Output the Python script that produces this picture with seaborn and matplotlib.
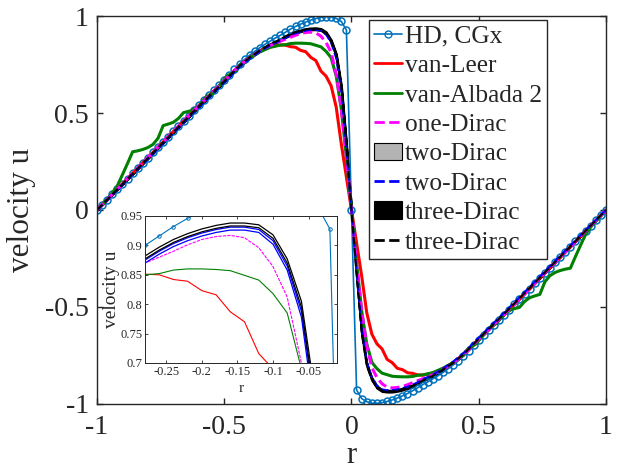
import numpy as np
import matplotlib
matplotlib.use("Agg")
import matplotlib.pyplot as plt
from matplotlib.lines import Line2D
from matplotlib.patches import Patch
import seaborn as sns

# ---------------- data ----------------
# HD, CGx reference solution on the 0.02 mesh
r_hd = np.linspace(-1, 1, 101)
hd_left = [0.000, 0.027, 0.054, 0.081, 0.108, 0.135, 0.162, 0.189, 0.216, 0.243,
           0.270, 0.297, 0.324, 0.351, 0.378, 0.405, 0.432, 0.459, 0.486, 0.513,
           0.540, 0.566, 0.592, 0.618, 0.644, 0.670, 0.698, 0.725, 0.752, 0.776,
           0.798, 0.818, 0.837, 0.854, 0.870, 0.886, 0.900, 0.916, 0.932, 0.946,
           0.958, 0.969, 0.979, 0.987, 0.993, 0.997, 0.996, 0.988, 0.972, 0.928,
           0.000]
hd_right = [-0.928, -0.972, -0.988, -0.996, -0.997, -0.993, -0.987, -0.979, -0.969, -0.958,
            -0.946, -0.932, -0.916, -0.900, -0.886, -0.870, -0.854, -0.837, -0.818, -0.798,
            -0.776, -0.752, -0.725, -0.698, -0.670, -0.644, -0.618, -0.592, -0.566, -0.540,
            -0.513, -0.486, -0.459, -0.432, -0.405, -0.378, -0.351, -0.324, -0.297, -0.270,
            -0.243, -0.216, -0.189, -0.162, -0.135, -0.108, -0.081, -0.054, -0.027, 0.000]

# grid used for van-Leer and the Dirac closures
r_grid = [-1.0, -0.9, -0.8, -0.7, -0.6, -0.5, -0.44, -0.4, -0.36, -0.32,
          -0.28, -0.26, -0.24, -0.22, -0.2, -0.18, -0.16, -0.14, -0.12, -0.1,
          -0.08, -0.06, -0.04, -0.02, 0.0,
          0.02, 0.04, 0.06, 0.08, 0.1, 0.12, 0.14, 0.16, 0.18, 0.2,
          0.22, 0.24, 0.26, 0.28, 0.32, 0.36, 0.4, 0.44, 0.5, 0.6,
          0.7, 0.8, 0.9, 1.0]

vanleer_left = [0.000, 0.135, 0.270, 0.405, 0.538, 0.666, 0.744, 0.786, 0.819, 0.842,
                0.851, 0.850, 0.842, 0.839, 0.823, 0.816, 0.787, 0.770, 0.716, 0.690,
                0.640, 0.530, 0.340, 0.170, 0.000]
vanleer_right = [-0.170, -0.340, -0.530, -0.640, -0.690, -0.716, -0.770, -0.787, -0.816, -0.823,
                 -0.839, -0.842, -0.850, -0.851, -0.842, -0.819, -0.786, -0.744, -0.666, -0.538,
                 -0.405, -0.270, -0.135, 0.000]

one_left = [0.000, 0.135, 0.270, 0.405, 0.538, 0.666, 0.746, 0.787, 0.820, 0.848,
            0.870, 0.880, 0.890, 0.901, 0.910, 0.915, 0.917, 0.913, 0.896, 0.864,
            0.812, 0.700, 0.520, 0.280, 0.000]
one_right = [-0.280, -0.520, -0.700, -0.812, -0.864, -0.896, -0.913, -0.917, -0.915, -0.910,
             -0.901, -0.890, -0.880, -0.870, -0.848, -0.820, -0.787, -0.746, -0.666, -0.538,
             -0.405, -0.270, -0.135, 0.000]

two_hi_left = [0.000, 0.131, 0.265, 0.399, 0.531, 0.660, 0.740, 0.783, 0.819, 0.850,
               0.875, 0.890, 0.903, 0.913, 0.921, 0.927, 0.931, 0.931, 0.927, 0.908,
               0.865, 0.788, 0.615, 0.318, 0.000]
two_hi_right = [-0.308, -0.600, -0.778, -0.858, -0.902, -0.922, -0.926, -0.926, -0.922, -0.916,
                -0.908, -0.898, -0.885, -0.870, -0.845, -0.814, -0.778, -0.735, -0.655, -0.527,
                -0.395, -0.261, -0.128, 0.000]
two_lo_left = [0.000, 0.128, 0.261, 0.395, 0.527, 0.655, 0.735, 0.778, 0.814, 0.845,
               0.870, 0.885, 0.898, 0.908, 0.916, 0.922, 0.926, 0.926, 0.922, 0.902,
               0.858, 0.778, 0.600, 0.308, 0.000]
two_lo_right = [-0.318, -0.615, -0.788, -0.865, -0.908, -0.927, -0.931, -0.931, -0.927, -0.921,
                -0.913, -0.903, -0.890, -0.875, -0.850, -0.819, -0.783, -0.740, -0.660, -0.531,
                -0.399, -0.265, -0.131, 0.000]
two_mean_left = [0.000, 0.130, 0.263, 0.397, 0.529, 0.658, 0.738, 0.781, 0.817, 0.848,
                 0.873, 0.888, 0.901, 0.911, 0.919, 0.925, 0.929, 0.929, 0.925, 0.905,
                 0.862, 0.783, 0.608, 0.313, 0.000]
two_mean_right = [-0.313, -0.608, -0.783, -0.862, -0.905, -0.925, -0.929, -0.929, -0.925, -0.919,
                  -0.911, -0.901, -0.888, -0.873, -0.848, -0.817, -0.781, -0.738, -0.658, -0.529,
                  -0.397, -0.263, -0.130, 0.000]

three_hi_left = [0.000, 0.135, 0.270, 0.405, 0.538, 0.667, 0.747, 0.790, 0.826, 0.857,
                 0.882, 0.897, 0.910, 0.920, 0.928, 0.934, 0.938, 0.938, 0.935, 0.918,
                 0.877, 0.805, 0.640, 0.340, 0.000]
three_hi_right = [-0.325, -0.625, -0.795, -0.870, -0.912, -0.930, -0.933, -0.933, -0.929, -0.923,
                  -0.915, -0.905, -0.892, -0.877, -0.852, -0.821, -0.785, -0.742, -0.662, -0.533,
                  -0.400, -0.266, -0.132, 0.000]
three_lo_left = [0.000, 0.132, 0.266, 0.400, 0.533, 0.662, 0.742, 0.785, 0.821, 0.852,
                 0.877, 0.892, 0.905, 0.915, 0.923, 0.929, 0.933, 0.933, 0.930, 0.912,
                 0.870, 0.795, 0.625, 0.325, 0.000]
three_lo_right = [-0.340, -0.640, -0.805, -0.877, -0.918, -0.935, -0.938, -0.938, -0.934, -0.928,
                  -0.920, -0.910, -0.897, -0.882, -0.857, -0.826, -0.790, -0.747, -0.667, -0.538,
                  -0.405, -0.270, -0.135, 0.000]
three_mean_left = [0.000, 0.134, 0.268, 0.402, 0.535, 0.664, 0.744, 0.787, 0.823, 0.854,
                   0.879, 0.894, 0.907, 0.917, 0.925, 0.931, 0.935, 0.935, 0.932, 0.915,
                   0.873, 0.800, 0.632, 0.332, 0.000]
three_mean_right = [-0.332, -0.632, -0.800, -0.873, -0.915, -0.932, -0.935, -0.935, -0.931, -0.925,
                    -0.917, -0.907, -0.894, -0.879, -0.854, -0.823, -0.787, -0.744, -0.664, -0.535,
                    -0.402, -0.268, -0.134, 0.000]

# van-Albada 2 has its own wiggly profile
albada_r = [-1.0, -0.96, -0.94, -0.92, -0.9, -0.88, -0.86, -0.84, -0.82, -0.8,
            -0.78, -0.76, -0.74, -0.72, -0.7, -0.68, -0.66, -0.63, -0.6, -0.57,
            -0.55, -0.52, -0.49, -0.46, -0.43, -0.4, -0.36, -0.32, -0.28, -0.26,
            -0.24, -0.22, -0.2, -0.18, -0.16, -0.14, -0.12, -0.1, -0.08, -0.06,
            -0.04, -0.02, 0.0,
            0.02, 0.04, 0.06, 0.08, 0.1, 0.12, 0.14, 0.16, 0.18, 0.2,
            0.22, 0.24, 0.26, 0.28, 0.32, 0.36, 0.4, 0.43, 0.46, 0.49,
            0.52, 0.55, 0.57, 0.6, 0.63, 0.66, 0.68, 0.7, 0.72, 0.74,
            0.76, 0.78, 0.8, 0.82, 0.84, 0.86, 0.88, 0.9, 0.92, 0.94,
            0.96, 1.0]
albada_u = [0.000, 0.056, 0.088, 0.125, 0.182, 0.240, 0.300, 0.305, 0.312, 0.322,
            0.338, 0.370, 0.435, 0.443, 0.452, 0.472, 0.502, 0.512, 0.536, 0.585,
            0.598, 0.640, 0.690, 0.712, 0.758, 0.786, 0.815, 0.838, 0.850, 0.852,
            0.858, 0.860, 0.860, 0.859, 0.857, 0.849, 0.841, 0.818, 0.785, 0.690,
            0.520, 0.270, 0.000,
            -0.270, -0.520, -0.690, -0.785, -0.818, -0.841, -0.849, -0.857, -0.859, -0.860,
            -0.860, -0.858, -0.852, -0.850, -0.838, -0.815, -0.786, -0.758, -0.712, -0.690,
            -0.640, -0.598, -0.585, -0.536, -0.512, -0.502, -0.472, -0.452, -0.443, -0.435,
            -0.370, -0.338, -0.322, -0.312, -0.305, -0.300, -0.240, -0.182, -0.125, -0.088,
            -0.056, 0.000]

hd_u = hd_left + hd_right
vanleer_u = vanleer_left + vanleer_right
one_u = one_left + one_right
two_hi = two_hi_left + two_hi_right
two_lo = two_lo_left + two_lo_right
two_mean = two_mean_left + two_mean_right
three_hi = three_hi_left + three_hi_right
three_lo = three_lo_left + three_lo_right
three_mean = three_mean_left + three_mean_right

legend_labels = ["HD, CGx", "van-Leer", "van-Albada 2", "one-Dirac",
                 "two-Dirac", "two-Dirac", "three-Dirac", "three-Dirac"]
main_ticks = [-1, -0.5, 0, 0.5, 1]
main_ticklabels = ["-1", "-0.5", "0", "0.5", "1"]
inset_xticks = [-0.25, -0.2, -0.15, -0.1, -0.05]
inset_xticklabels = ["-0.25", "-0.2", "-0.15", "-0.1", "-0.05"]
inset_yticks = [0.7, 0.75, 0.8, 0.85, 0.9, 0.95]
inset_yticklabels = ["0.7", "0.75", "0.8", "0.85", "0.9", "0.95"]

# ---------------- style ----------------
sns.set_style("ticks")
plt.rcParams["font.family"] = ["Liberation Serif", "DejaVu Serif"]
plt.rcParams["axes.unicode_minus"] = False
plt.rcParams["xtick.direction"] = "in"
plt.rcParams["ytick.direction"] = "in"
plt.rcParams["xtick.top"] = True
plt.rcParams["ytick.right"] = True

c_hd = "#0072BD"
c_red = "#FF0000"
c_green = "#008000"
c_mag = "#FF00FF"
c_blue = "#0000FF"
c_axis = "#262626"

fig = plt.figure(figsize=(6.41, 4.75), dpi=100)
ax = fig.add_axes([0.1513, 0.1495, 0.7941, 0.8168])

# main axes
sns.lineplot(x=r_hd, y=hd_u, ax=ax, color=c_hd, lw=1.2, marker="o", markersize=5,
             markerfacecolor="none", markeredgecolor=c_hd, markeredgewidth=1.1,
             estimator=None, sort=False)
sns.lineplot(x=r_grid, y=vanleer_u, ax=ax, color=c_red, lw=2.2, estimator=None, sort=False)
sns.lineplot(x=albada_r, y=albada_u, ax=ax, color=c_green, lw=2.2, estimator=None, sort=False)
sns.lineplot(x=r_grid, y=one_u, ax=ax, color=c_mag, lw=2.2, linestyle=(0, (3, 1.5)),
             estimator=None, sort=False)
ax.fill_between(r_grid, two_lo, two_hi, facecolor="#b3b3b3", edgecolor="k", lw=0.6)
sns.lineplot(x=r_grid, y=two_mean, ax=ax, color=c_blue, lw=1.5, linestyle="--",
             estimator=None, sort=False)
ax.fill_between(r_grid, three_lo, three_hi, facecolor="k", edgecolor="k", lw=1.6)
sns.lineplot(x=r_grid, y=three_mean, ax=ax, color="k", lw=1.5, linestyle="--",
             estimator=None, sort=False)

ax.set_xlim(-1, 1)
ax.set_ylim(-1, 1)
ax.set_xticks(main_ticks)
ax.set_xticklabels(main_ticklabels)
ax.set_yticks(main_ticks)
ax.set_yticklabels(main_ticklabels)
ax.tick_params(axis="both", labelsize=20, length=4.5, width=1.0, color=c_axis,
               labelcolor=c_axis)
ax.tick_params(axis="x", pad=8)
ax.tick_params(axis="y", pad=6)
for s in ax.spines.values():
    s.set_visible(True)
    s.set_color(c_axis)
    s.set_linewidth(1.0)
ax.set_xlabel("r", fontsize=22, labelpad=0.5, color=c_axis)
ax.set_ylabel("velocity u", fontsize=22.5, labelpad=6, color=c_axis)

handles = [
    Line2D([0], [0], color=c_hd, lw=1.2, marker="o", ms=5, mfc="none", mec=c_hd),
    Line2D([0], [0], color=c_red, lw=2),
    Line2D([0], [0], color=c_green, lw=2),
    Line2D([0], [0], color=c_mag, lw=2, ls="--"),
    Patch(facecolor="#b3b3b3", edgecolor="k", lw=0.8),
    Line2D([0], [0], color=c_blue, lw=2, ls="--"),
    Patch(facecolor="k", edgecolor="k", lw=0.8),
    Line2D([0], [0], color="k", lw=2, ls="--"),
]
leg = ax.legend(handles, legend_labels, loc="upper left", bbox_to_anchor=(0.534, 0.99),
                fontsize=18.3, frameon=True, fancybox=False, edgecolor=c_axis,
                framealpha=1, borderpad=0.2, labelspacing=0.26, handlelength=1.1,
                handletextpad=0.13, borderaxespad=0)
leg.get_frame().set_linewidth(1.0)

# inset zoom on the peak
axin = fig.add_axes([0.2262, 0.2358, 0.2995, 0.3095])
axin.set_facecolor("white")
sns.lineplot(x=r_hd, y=hd_u, ax=axin, color=c_hd, lw=0.8, marker="o", markersize=2.5,
             markerfacecolor="none", markeredgecolor=c_hd, markeredgewidth=0.7,
             estimator=None, sort=False)
sns.lineplot(x=r_grid, y=vanleer_u, ax=axin, color=c_red, lw=0.8, estimator=None, sort=False)
sns.lineplot(x=albada_r, y=albada_u, ax=axin, color=c_green, lw=0.8, estimator=None, sort=False)
sns.lineplot(x=r_grid, y=one_u, ax=axin, color=c_mag, lw=0.8, linestyle=(0, (3, 1)),
             estimator=None, sort=False)
sns.lineplot(x=r_grid, y=two_hi, ax=axin, color=c_blue, lw=0.9, estimator=None, sort=False)
sns.lineplot(x=r_grid, y=two_lo, ax=axin, color=c_blue, lw=0.9, estimator=None, sort=False)
sns.lineplot(x=r_grid, y=three_hi, ax=axin, color="k", lw=0.9, estimator=None, sort=False)
sns.lineplot(x=r_grid, y=three_lo, ax=axin, color="k", lw=0.9, estimator=None, sort=False)
axin.set_xlim(-0.28, -0.01)
axin.set_ylim(0.7, 0.95)
axin.set_xticks(inset_xticks)
axin.set_xticklabels(inset_xticklabels)
axin.set_yticks(inset_yticks)
axin.set_yticklabels(inset_yticklabels)
axin.tick_params(axis="both", labelsize=9, length=2.5, width=0.6, color=c_axis,
                 labelcolor=c_axis, pad=2)
for s in axin.spines.values():
    s.set_visible(True)
    s.set_color(c_axis)
    s.set_linewidth(0.7)
axin.set_xlabel("r", fontsize=11, labelpad=3, color=c_axis)
axin.set_ylabel("velocity u", fontsize=14, labelpad=0, color=c_axis)

fig.savefig("out.png", dpi=100)
